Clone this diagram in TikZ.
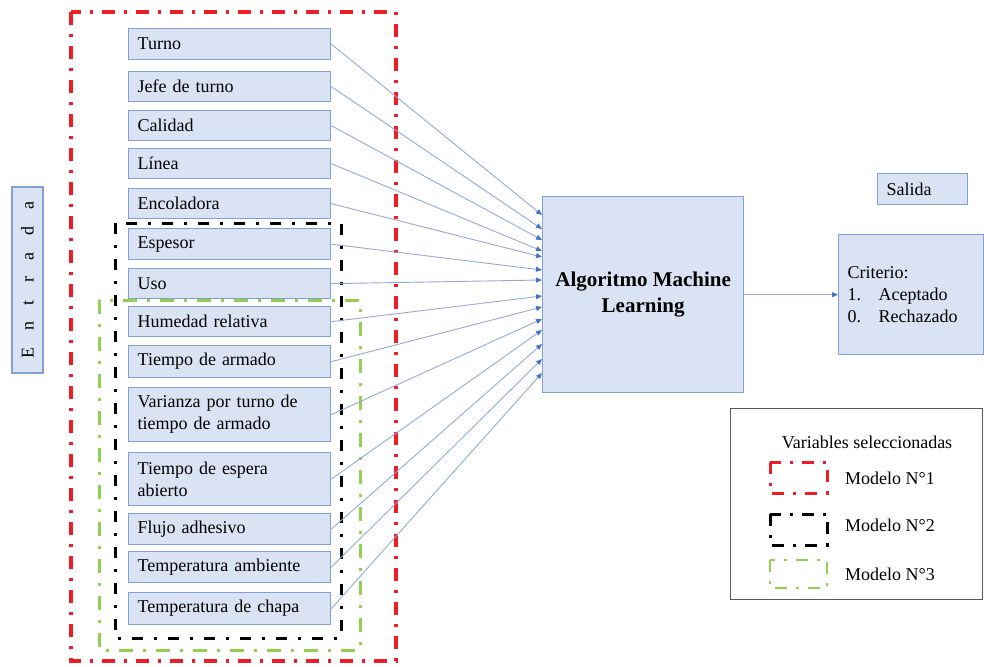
\documentclass[tikz,border=0pt]{standalone}
\usepackage{fontspec}
\setmainfont{Liberation Serif}
\usetikzlibrary{arrows.meta,calc}
\definecolor{boxfill}{HTML}{DAE3F3}
\definecolor{boxline}{HTML}{82A0D6}
\definecolor{arrline}{HTML}{94AAD6}
\definecolor{arrtip}{HTML}{4472C4}
\definecolor{redm}{HTML}{EE1C25}
\definecolor{greenm}{HTML}{92D050}
\definecolor{legline}{HTML}{595959}
\begin{document}
\begin{tikzpicture}[x=1pt,y=-1pt,
  txt/.style={font=\fontsize{18}{22}\selectfont},
  bluebox/.style={draw=boxline, fill=boxfill, line width=1.3pt, txt},
  inbox/.style={bluebox, anchor=north west, text width=184pt, inner xsep=9pt, inner ysep=0pt, align=left, minimum height=#1},
  inbox/.default=30pt,
  arr/.style={draw=arrline, line width=0.9pt, -{Triangle[length=6pt,width=5pt,color=arrtip,fill=arrtip]}},
  redframe/.style={draw=redm, line width=3.2pt, dash pattern=on 13pt off 9pt on 3pt off 9pt},
  blackframe/.style={draw=black, line width=3pt, dash pattern=on 11pt off 11pt on 3pt off 11pt},
  greenframe/.style={draw=greenm, line width=3pt, dash pattern=on 14pt off 10pt on 3pt off 10pt},
  redsw/.style={draw=redm, line width=3pt, dash pattern=on 12pt off 9pt on 3pt off 9pt},
  blacksw/.style={draw=black, line width=3pt, dash pattern=on 12pt off 9pt on 3pt off 9pt},
  greensw/.style={draw=greenm, line width=2.8pt, dash pattern=on 12pt off 9pt on 3pt off 9pt}
]
\useasboundingbox (0,0) rectangle (984,666);
\fill[white] (0,0) rectangle (984,666);

% model frames
\draw[redframe] (71,12) rectangle (396,661);
\draw[greenframe] (99,300) rectangle (360,650);
\draw[blackframe] (115,223) rectangle (341,638);

% input boxes
\node[inbox=31pt] (turno) at (128,28) {Turno};
\node[inbox] (jefe) at (128,71) {Jefe de turno};
\node[inbox] (calidad) at (128,110) {Calidad};
\node[inbox] (linea) at (128,148) {Línea};
\node[inbox] (encol) at (128,188) {Encoladora};
\node[inbox=31pt] (espesor) at (128,228) {Espesor};
\node[inbox] (uso) at (128,268) {Uso};
\node[inbox] (humedad) at (128,306) {Humedad relativa};
\node[inbox=32pt] (tarmado) at (128,345) {Tiempo de armado};
\node[inbox=54pt] (varianza) at (128,387) {Varianza por turno de\\tiempo de armado};
\node[inbox=53pt] (espera) at (128,452) {Tiempo de espera\\abierto};
\node[inbox=31pt] (flujo) at (128,513) {Flujo adhesivo};
\node[inbox=31pt] (tamb) at (128,551) {Temperatura ambiente};
\node[inbox=32pt] (tchapa) at (128,592) {Temperatura de chapa};

% Entrada
\node[bluebox, rotate=90, minimum width=186pt, minimum height=31pt, inner sep=0pt] (entrada) at (27.5,280)
  {E\hspace{17pt}n\hspace{17pt}t\hspace{17pt}r\hspace{17pt}a\hspace{17pt}d\hspace{17pt}a};

% ML box
\node[bluebox, anchor=north west, minimum width=201pt, minimum height=196pt, align=center,
      font=\fontsize{21}{26}\selectfont\bfseries] (ml) at (542,196) {Algoritmo Machine\\Learning};

% output
\node[bluebox, anchor=north west, minimum width=90pt, minimum height=31pt, inner xsep=9pt, text width=72pt, align=left] (salida) at (877,173) {Salida};
\node[bluebox, anchor=north west, minimum width=145pt, minimum height=120pt, inner xsep=9pt, text width=127pt, align=left] (crit) at (838,234)
  {Criterio:\\\makebox[31pt][l]{1.}Aceptado\\\makebox[31pt][l]{0.}Rechazado};

% arrows
\foreach \n/\o in {turno/19, jefe/33, calidad/44, linea/55, encol/61, espesor/74, uso/84,
                   humedad/100, tarmado/111, varianza/123, espera/134, flujo/148, tamb/163, tchapa/177}
  \draw[arr] (\n.east) -- ($(ml.north west)+(0,\o)$);
\draw[arr] (ml.east) -- (crit.west);

% legend
\node[draw=legline, line width=1.1pt, anchor=north west, minimum width=252pt, minimum height=191pt] (legend) at (730,408) {};
\node[txt] (legtitle) at (867,442) {Variables seleccionadas};
\draw[redsw] (770,462) rectangle (827,493);
\draw[blacksw] (770,514) rectangle (827,545);
\draw[greensw] (770,560) rectangle (827,588);
\node[txt, anchor=west, inner sep=0pt] (m1) at (845,478) {Modelo N°1};
\node[txt, anchor=west, inner sep=0pt] (m2) at (845,525) {Modelo N°2};
\node[txt, anchor=west, inner sep=0pt] (m3) at (845,574) {Modelo N°3};
\end{tikzpicture}
\end{document}
